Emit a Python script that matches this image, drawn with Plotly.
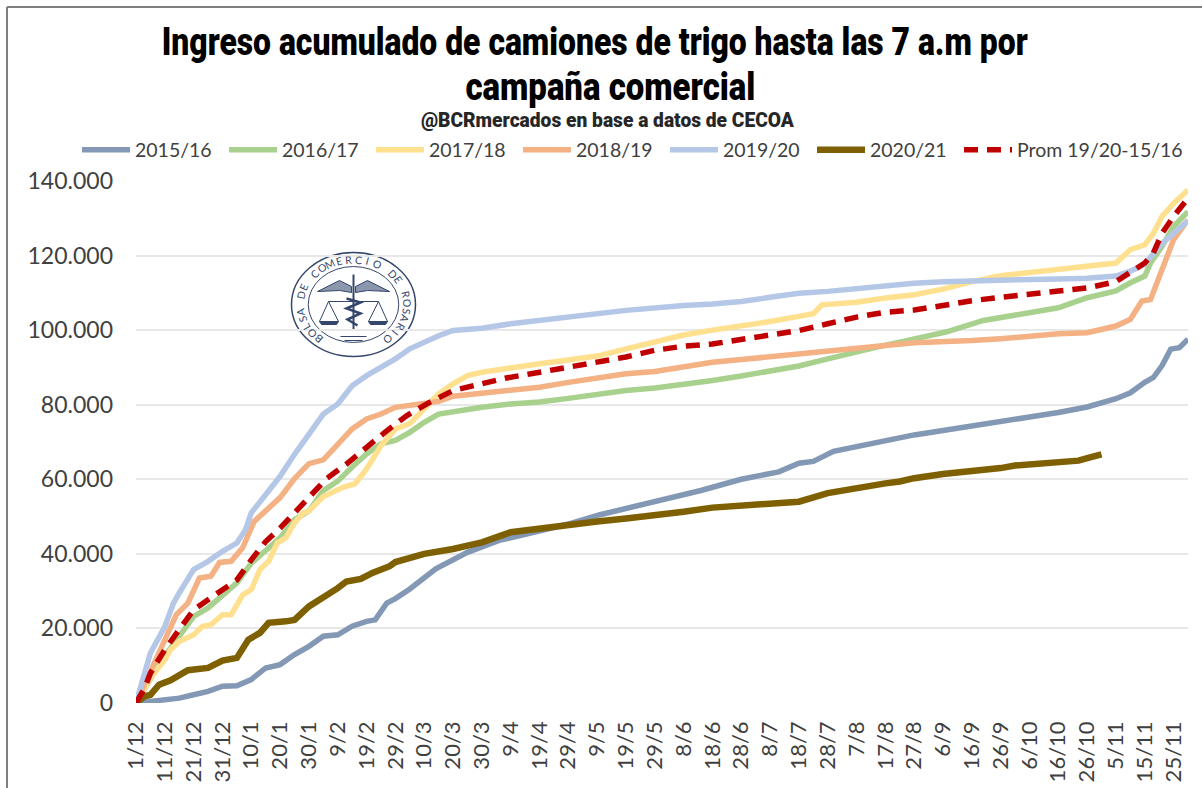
import math
import plotly.graph_objects as go

W, H = 1202, 788
tick_days = [i * 10 for i in range(37)]
tick_labels = ["1/12","11/12","21/12","31/12","10/1","20/1","30/1","9/2","19/2","29/2","10/3","20/3","30/3",
               "9/4","19/4","29/4","9/5","19/5","29/5","8/6","18/6","28/6","8/7","18/7","28/7","7/8","17/8",
               "27/8","6/9","16/9","26/9","6/10","16/10","26/10","5/11","15/11","25/11"]
y_ticks = [0, 20000, 40000, 60000, 80000, 100000, 120000, 140000]
y_labels = ["0", "20.000", "40.000", "60.000", "80.000", "100.000", "120.000", "140.000"]

days_1516 = [0,5,10,15,20,25,30,35,40,45,50,55,60,65,70,75,80,83,87,90,95,104,115,126,138,150,161,175,196,210,223,230,235,242,250,260,270,280,290,300,310,320,330,340,345,350,353,356,359,362,365]
vals_1516 = [0,500,800,1300,2200,3100,4500,4600,6300,9400,10300,13000,15200,17900,18300,20600,21900,22300,26800,28000,30600,36000,40400,43600,45800,48000,50500,53000,57000,60000,62000,64300,64800,67500,68800,70100,71900,73100,74200,75300,76700,77900,79400,81600,83200,86000,87300,90500,94900,95300,97600]

days_1617 = [0,3,5,9,15,20,25,30,35,40,45,50,55,60,65,70,75,80,85,90,95,100,105,110,120,130,140,150,161,170,180,190,200,210,220,230,240,250,260,265,281,294,308,320,330,340,345,350,352,356,360,365]
vals_1617 = [0,4000,7000,11600,17900,23200,25500,29000,32200,37500,41100,44300,49200,51500,57000,59500,63300,66800,69500,70400,72600,75300,77500,78200,79300,80200,80700,81700,83000,83800,84500,85400,86500,87700,88900,90400,92300,94300,96000,96800,99500,102600,104400,106000,108700,110500,112700,114500,118000,122500,127800,131800]

days_1718 = [0,3,5,10,12,15,20,23,26,30,33,37,40,43,46,49,52,55,58,60,65,72,76,80,85,90,95,100,105,110,115,120,130,140,150,161,170,180,190,200,210,220,230,235,238,250,260,270,280,290,300,310,320,330,340,345,350,353,356,360,365]
vals_1718 = [0,4000,6700,11600,14300,16500,18300,20500,21000,23700,23700,29000,30400,35800,38000,42900,44300,48300,51000,51500,55400,57900,58800,62800,69000,73500,74900,78900,82900,85600,87800,88700,90000,91000,92000,93200,95000,96800,98700,100000,101000,102300,103700,104400,106800,107500,108600,109500,111000,113000,114600,115400,116200,117200,118000,121600,122900,126000,130500,134000,137600]

days_1819 = [0,3,7,10,14,18,22,26,29,33,37,41,45,50,55,60,65,70,75,80,85,90,100,105,110,120,130,140,150,161,170,180,190,200,210,220,230,240,250,260,270,280,290,300,310,320,330,340,345,349,352,356,360,365]
vals_1819 = [0,5000,11600,17000,23700,26800,33500,34000,37700,38000,41600,48700,51400,55100,60200,64200,65200,69400,73500,76200,77500,79300,80200,80900,82300,83200,84000,84700,86000,87400,88300,88900,90100,91400,92100,92900,93700,94600,95300,95900,96600,96800,97200,97700,98400,99000,99300,101100,102900,107800,108200,116300,124300,129600]

days_1920 = [0,3,5,10,13,15,20,25,30,35,38,40,45,50,55,60,65,70,75,80,85,90,95,100,105,110,120,130,140,150,161,170,180,190,200,210,220,230,240,250,260,270,280,290,300,310,320,330,340,345,350,355,360,365]
vals_1920 = [0,8000,13400,20500,26800,29500,35800,38000,40700,42900,46500,51000,56000,60800,66700,72000,77500,80200,85100,87800,90000,92300,95000,96800,98500,99900,100500,101700,102700,103700,104500,105300,106000,106600,107000,107700,108800,109900,110400,111200,112000,112600,113000,113300,113500,113600,113700,113900,114500,115800,117600,122500,126000,129300]

days_2021 = [0,3,5,8,12,15,18,25,28,30,35,39,43,46,52,55,60,65,70,73,78,82,88,90,100,110,120,130,140,150,160,170,180,190,200,210,220,230,240,249,260,265,270,280,290,300,305,320,327,331,335]
vals_2021 = [0,1800,2200,4900,6100,7600,8800,9400,10500,11400,12100,17000,18800,21500,21900,22300,25900,28200,30800,32600,33300,34900,36700,37800,40000,41300,43100,45800,46900,48000,48700,49500,50300,51300,52400,53000,53500,54000,56300,57600,58900,59400,60300,61400,62100,63000,63700,64500,65000,65900,66700]

days_prom = [0,3,5,10,15,20,25,30,35,40,45,50,55,60,66,73,80,87,94,102,110,119,128,137,150,161,170,180,190,200,210,220,230,240,250,260,270,280,290,300,310,320,330,340,345,350,353,356,360,365]
vals_prom = [0,4000,8000,14300,19700,25000,27700,30400,33000,38400,43300,46900,51000,55400,60100,64100,68600,73000,77100,80700,83800,85600,87100,88300,90000,91400,92800,94600,95700,96300,97500,98600,99900,101700,103500,104800,105400,106600,107900,108800,109700,110400,111300,113000,115400,118000,120700,126000,130500,135400]

series = [
    ("2015/16", days_1516, vals_1516, "#8398B5", 5.5, "solid", 84),
    ("2016/17", days_1617, vals_1617, "#A9D18E", 5.5, "solid", 84),
    ("2017/18", days_1718, vals_1718, "#FFE08F", 5.5, "solid", 84),
    ("2018/19", days_1819, vals_1819, "#F4B183", 5.5, "solid", 84),
    ("2019/20", days_1920, vals_1920, "#B4C7E7", 5.5, "solid", 84),
    ("2020/21", days_2021, vals_2021, "#7F6000", 6.5, "solid", 84),
    ("Prom 19/20-15/16", days_prom, vals_prom, "#C00000", 5.5, "14px,9px", 180),
]

fig = go.Figure()
for name, d, v, c, w, dash, lw in series:
    fig.add_trace(go.Scatter(x=d, y=v, name=name, mode="lines", legendwidth=lw,
                             line=dict(color=c, width=w, dash=dash)))

L, R, T, B = 136, 14, 181, 85
def sx(x): return (x - L) / (W - L - R)
def sy(y): return 1 - (y - T) / (H - T - B)

shapes = [
    dict(type="line", xref="paper", yref="paper", x0=sx(7), x1=sx(7), y0=sy(7), y1=sy(788), line=dict(color="#7f7f7f", width=2)),
    dict(type="line", xref="paper", yref="paper", x0=sx(7), x1=sx(1202), y0=sy(7), y1=sy(7), line=dict(color="#7f7f7f", width=2)),
]

SEAL = "#34466b"
CX, CY, RX, RY = 353.5, 304.5, 62, 52
def ell(k, w):
    return dict(type="circle", xref="paper", yref="paper", layer="below",
                x0=sx(CX - RX * k), x1=sx(CX + RX * k), y0=sy(CY + RY * k), y1=sy(CY - RY * k),
                line=dict(color=SEAL, width=w))
shapes += [ell(1.0, 1.5), ell(0.73, 1)]
def path(pts, close=False, fill=None, w=1):
    s = "M " + " L ".join(f"{sx(CX + a)} {sy(CY + b)}" for a, b in pts) + (" Z" if close else "")
    return dict(type="path", xref="paper", yref="paper", layer="below", path=s,
                line=dict(color=SEAL, width=w), fillcolor=fill or "rgba(0,0,0,0)")
shapes += [
    path([(-36,-13),(-14,-24),(-2,-18),(-2,-12),(-14,-14)], True, "#8b97ad"),
    path([(36,-13),(14,-24),(2,-18),(2,-12),(14,-14)], True, "#8b97ad"),
    path([(0,-30),(0,26)], w=2),
    path([(-7,-6),(7,-2),(-7,4),(7,9),(-6,15),(4,21)], w=2.5),
    path([(-25,-3),(25,-3)], w=1),
    path([(-25,-3),(-34,17),(-15,17)], True),
    path([(25,-3),(15,17),(34,17)], True),
    path([(-34,17),(-15,17),(-17,20),(-32,20)], True, SEAL),
    path([(34,17),(15,17),(17,20),(32,20)], True, SEAL),
    path([(-13,32),(13,32)], w=1),
    path([(-9,36),(9,36)], w=1),
]

TITLE_FONT = dict(family="Roboto", size=38, color="#000000", weight=900)
annotations = [
    dict(text="Ingreso acumulado de camiones de trigo hasta las 7 a.m por", x=sx(595), y=sy(42), xref="paper", yref="paper",
         showarrow=False, font=TITLE_FONT, xanchor="center", yanchor="middle"),
    dict(text="campaña comercial", x=sx(610), y=sy(87), xref="paper", yref="paper",
         showarrow=False, font=TITLE_FONT, xanchor="center", yanchor="middle"),
    dict(text="@BCRmercados en base a datos de CECOA", x=sx(607), y=sy(120), xref="paper", yref="paper",
         showarrow=False, font=dict(family="Roboto", size=20, color="#262626", weight=900), xanchor="center", yanchor="middle"),
]

seal_text = "BOLSA DE COMERCIO DE ROSARIO"
n = len(seal_text)
start, sweep = -140.0, 280.0
for i, ch in enumerate(seal_text):
    if ch == " ":
        continue
    a = start + sweep * i / (n - 1)
    r = math.radians(a)
    annotations.append(dict(text=ch, x=sx(CX + 0.865 * RX * math.sin(r)), y=sy(CY - 0.865 * RY * math.cos(r)),
                            xref="paper", yref="paper", showarrow=False, textangle=a,
                            font=dict(family="Lato", size=10.5, color=SEAL), xanchor="center", yanchor="middle"))

fig.update_layout(
    width=W, height=H, autosize=False,
    margin=dict(l=L, r=R, t=T, b=B),
    paper_bgcolor="#FFFFFF", plot_bgcolor="#FFFFFF",
    shapes=shapes, annotations=annotations,
    showlegend=True,
    legend=dict(orientation="h", x=sx(78), xanchor="left", y=sy(150), yanchor="middle",
                font=dict(family="Lato", size=19.5, color="#404040"),
                itemwidth=48, tracegroupgap=0,
                bgcolor="rgba(0,0,0,0)", itemclick=False, traceorder="normal"),
    xaxis=dict(range=[0, 365], tickmode="array", tickvals=tick_days, ticktext=tick_labels, tickangle=-90,
               showgrid=False, zeroline=False, showline=False, ticks="", ticklabelstandoff=13, automargin=False,
               tickfont=dict(family="Lato", size=22, color="#404040")),
    yaxis=dict(range=[0, 140000], tickmode="array", tickvals=y_ticks, ticktext=y_labels,
               showgrid=True, gridcolor="#E8E8E8", gridwidth=1.5, zeroline=False, showline=False, ticks="",
               ticklabelstandoff=22, automargin=False, tickfont=dict(family="Lato", size=23, color="#404040")),
)

POST = """
document.body.style.margin = '0';
document.body.style.overflow = 'hidden';
var fit = {'Ingreso': 866, 'campaña': 290, '@BCR': 373};
document.querySelectorAll('.annotation-text').forEach(function (t) {
  Object.keys(fit).forEach(function (k) {
    if (t.textContent.indexOf(k) === 0) {
      t.setAttribute('textLength', fit[k]);
      t.setAttribute('lengthAdjust', 'spacingAndGlyphs');
    }
  });
});
"""
fig.write_html("out.html", post_script=POST, config={"displayModeBar": False})
